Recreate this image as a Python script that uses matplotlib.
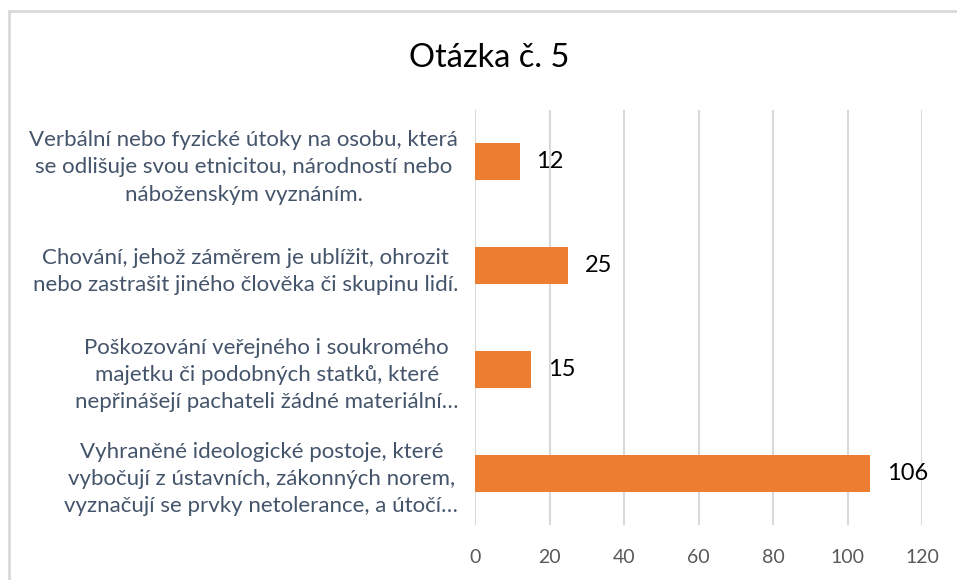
import matplotlib
matplotlib.use("Agg")
import matplotlib.pyplot as plt
from matplotlib.patches import Rectangle

# Data (top to bottom)
categories = [
    "Verbální nebo fyzické útoky na osobu, která\nse odlišuje svou etnicitou, národností nebo\nnáboženským vyznáním.",
    "Chování, jehož záměrem je ublížit, ohrozit\nnebo zastrašit jiného člověka či skupinu lidí.",
    "Poškozování veřejného i soukromého\nmajetku či podobných statků, které\nnepřinášejí pachateli žádné materiální…",
    "Vyhraněné ideologické postoje, které\nvybočují z ústavních, zákonných norem,\nvyznačují se prvky netolerance, a útočí…",
]
values = [12, 25, 15, 106]
x_ticks = [0, 20, 40, 60, 80, 100, 120]

plt.rcParams['font.family'] = ['Lato', 'DejaVu Sans']

fig = plt.figure(figsize=(9.57, 5.8), dpi=100)
ax = fig.add_axes([475 / 957, 55 / 580, 447 / 957, 415 / 580])

# chart border (only top and left visible in the crop)
fig.patches.append(Rectangle((9 / 957, -0.1), 1.2, (580 - 11) / 580 + 0.1,
                             transform=fig.transFigure, fill=False,
                             edgecolor='#D9D9D9', linewidth=2))

ypos = list(range(len(values)))[::-1]
ax.barh(ypos, values, height=0.355, color='#ED7D31', zorder=3)

for y, v in zip(ypos, values):
    ax.annotate(str(v), (v, y), xytext=(12, 0), textcoords='offset points',
                va='center', ha='left', fontsize=17, color='black')

ax.set_xlim(0, 120)
ax.set_ylim(-0.5, len(values) - 0.5)
ax.set_xticks(x_ticks)
ax.set_yticks(ypos)
ax.set_yticklabels(categories, multialignment='center', fontsize=16, color='#44546A',
                   linespacing=1.45)
ax.tick_params(axis='y', length=0, pad=12)
ax.tick_params(axis='x', length=0, pad=17, labelsize=14, labelcolor='#595959')

ax.grid(axis='x', color='#D9D9D9', linewidth=1.5, zorder=0)
for s in ax.spines.values():
    s.set_visible(False)

fig.text(489 / 957, 1 - 58 / 580, "Otázka č. 5", ha='center', va='center',
         fontsize=23.5, color='black')

fig.savefig('out.png', dpi=100)
